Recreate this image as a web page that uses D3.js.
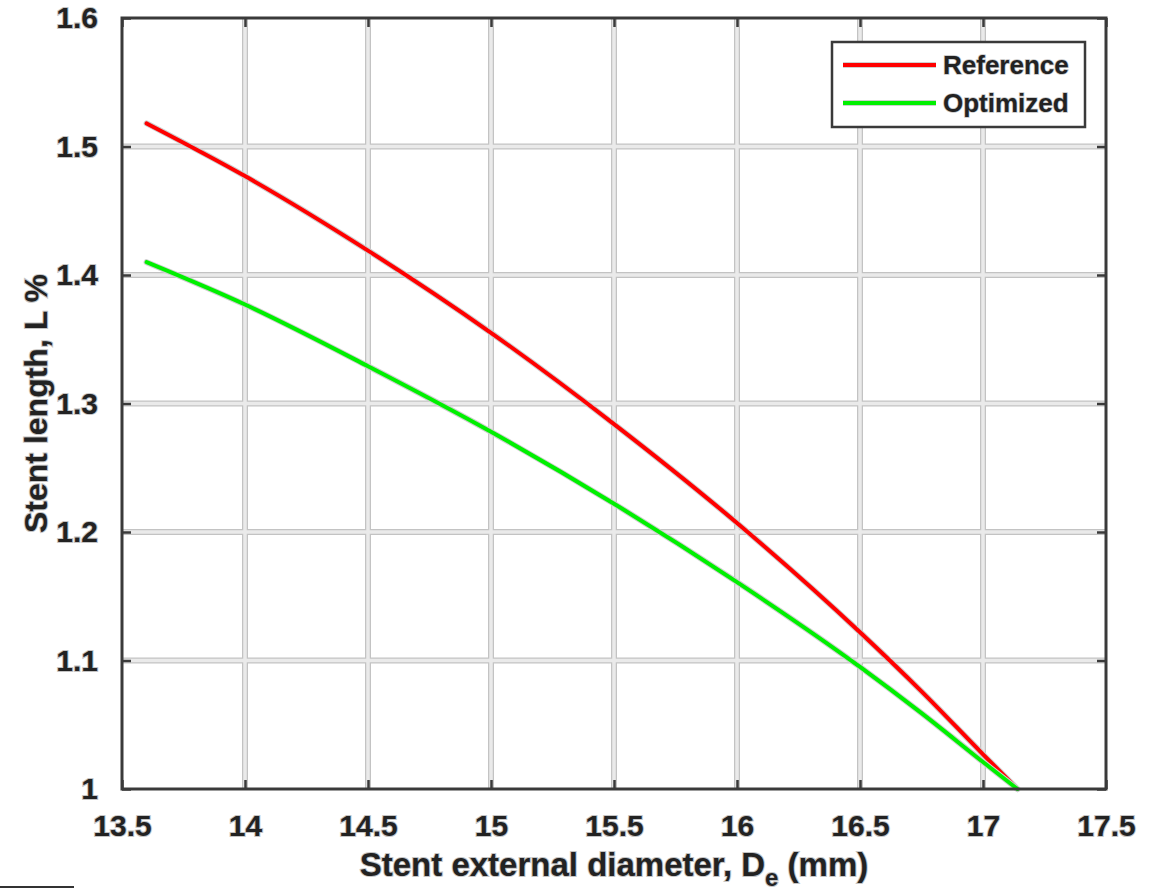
<!DOCTYPE html>
<html>
<head>
<meta charset="utf-8">
<script src="https://cdn.jsdelivr.net/npm/d3@7"></script>
<style>
  html, body { margin: 0; padding: 0; background: #fff; }
  svg { display: block; }
  text { font-family: "Liberation Sans", Arial, sans-serif; font-weight: bold; }
</style>
</head>
<body>
<svg id="chart"></svg>
<script>
// values
const diameters = [13.6, 14, 14.5, 15, 15.5, 16, 16.5, 16.75, 17, 17.14];
const referenceValues = [1.518, 1.477, 1.419, 1.355, 1.284, 1.207, 1.122, 1.076, 1.027, 1.0];
const optimizedValues = [1.410, 1.377, 1.329, 1.278, 1.222, 1.161, 1.095, 1.059, 1.021, 1.0];
const xTicks = [13.5, 14, 14.5, 15, 15.5, 16, 16.5, 17, 17.5];
const yTicks = [1, 1.1, 1.2, 1.3, 1.4, 1.5, 1.6];
const seriesNames = ["Reference", "Optimized"];
const seriesColors = ["#ff0000", "#00f000"];

const width = 1161, height = 896;
const margin = { top: 18, right: 55, bottom: 107, left: 122 };

const svg = d3.select("#chart").attr("width", width).attr("height", height);

const x = d3.scaleLinear().domain([13.5, 17.5]).range([margin.left, width - margin.right]);
const y = d3.scaleLinear().domain([1, 1.6]).range([height - margin.bottom, margin.top]);

const x0 = x.range()[0], x1 = x.range()[1];
const y0 = y.range()[0], y1 = y.range()[1];

// grid: grey edge first, light core on top
const grid = svg.append("g");
["#c3c3c3", "#eaeaea"].forEach((c, i) => {
  const w = i === 0 ? 6 : 3.5;
  grid.selectAll(null).data(xTicks.slice(1, -1)).join("line")
    .attr("x1", d => x(d)).attr("x2", d => x(d))
    .attr("y1", y1).attr("y2", y0)
    .attr("stroke", c).attr("stroke-width", w);
  grid.selectAll(null).data(yTicks.slice(1, -1)).join("line")
    .attr("x1", x0).attr("x2", x1)
    .attr("y1", d => y(d)).attr("y2", d => y(d))
    .attr("stroke", c).attr("stroke-width", w);
});

// curves
const line = d3.line().x(d => x(d[0])).y(d => y(d[1])).curve(d3.curveMonotoneX);
const series = [referenceValues, optimizedValues].map(vals => diameters.map((d, i) => [d, vals[i]]));

series.forEach((pts, i) => {
  svg.append("path").datum(pts).attr("d", line)
    .attr("fill", "none").attr("stroke", "#cfcfcf").attr("stroke-width", 6)
    .attr("stroke-linecap", "round");
  svg.append("path").datum(pts).attr("d", line)
    .attr("fill", "none").attr("stroke", seriesColors[i]).attr("stroke-width", 4)
    .attr("stroke-linecap", "round");
});

// box axes with inward ticks
const axisColor = "#3a3a3a";
function styleAxis(g) {
  g.select(".domain").remove();
  g.selectAll(".tick line").attr("stroke", axisColor).attr("stroke-width", 2.5);
  g.selectAll(".tick text")
    .attr("fill", "#222").attr("stroke", "#c4c4c4").attr("stroke-width", 2)
    .attr("paint-order", "stroke").style("font-size", "30px");
}

svg.append("g").attr("transform", `translate(0,${y0})`)
  .call(d3.axisBottom(x).tickValues(xTicks).tickFormat(d3.format("")).tickSizeInner(-9).tickPadding(26))
  .call(styleAxis);
svg.append("g").attr("transform", `translate(0,${y1})`)
  .call(d3.axisTop(x).tickValues(xTicks).tickSizeInner(-9).tickFormat(""))
  .call(styleAxis);
svg.append("g").attr("transform", `translate(${x0},0)`)
  .call(d3.axisLeft(y).tickValues(yTicks).tickFormat(d3.format("")).tickSizeInner(-9).tickPadding(24))
  .call(styleAxis);
svg.append("g").attr("transform", `translate(${x1},0)`)
  .call(d3.axisRight(y).tickValues(yTicks).tickSizeInner(-9).tickFormat(""))
  .call(styleAxis);

svg.append("rect")
  .attr("x", x0).attr("y", y1).attr("width", x1 - x0).attr("height", y0 - y1)
  .attr("fill", "none").attr("stroke", axisColor).attr("stroke-width", 3);

// axis titles
const xTitle = svg.append("text")
  .attr("x", (x0 + x1) / 2).attr("y", 876)
  .attr("text-anchor", "middle").style("font-size", "33px")
  .attr("fill", "#222").attr("stroke", "#c4c4c4").attr("stroke-width", 2).attr("paint-order", "stroke");
xTitle.append("tspan").text("Stent external diameter, D");
xTitle.append("tspan").attr("dy", 10).style("font-size", "24px").text("e");
xTitle.append("tspan").attr("dy", -10).text(" (mm)");

svg.append("text")
  .attr("transform", `translate(47,${(y0 + y1) / 2}) rotate(-90)`)
  .attr("text-anchor", "middle").style("font-size", "32px")
  .attr("fill", "#222").attr("stroke", "#c4c4c4").attr("stroke-width", 2).attr("paint-order", "stroke")
  .text("Stent length, L %");

// legend
const legend = svg.append("g").attr("transform", "translate(832,42)");
legend.append("rect").attr("width", 253).attr("height", 85)
  .attr("fill", "#fff").attr("stroke", axisColor).attr("stroke-width", 2.5);
seriesNames.forEach((name, i) => {
  const ly = 23 + i * 38;
  legend.append("line").attr("x1", 11).attr("x2", 104).attr("y1", ly).attr("y2", ly)
    .attr("stroke", "#cfcfcf").attr("stroke-width", 6);
  legend.append("line").attr("x1", 11).attr("x2", 104).attr("y1", ly).attr("y2", ly)
    .attr("stroke", seriesColors[i]).attr("stroke-width", 4);
  legend.append("text").attr("x", 111).attr("y", ly + 9).style("font-size", "26px")
    .attr("fill", "#222").attr("stroke", "#c4c4c4").attr("stroke-width", 1.5).attr("paint-order", "stroke")
    .text(name);
});

// small stray rule at lower left of the source figure
svg.append("line").attr("x1", 0).attr("x2", 74).attr("y1", 887).attr("y2", 887)
  .attr("stroke", "#333").attr("stroke-width", 2);
</script>
</body>
</html>
